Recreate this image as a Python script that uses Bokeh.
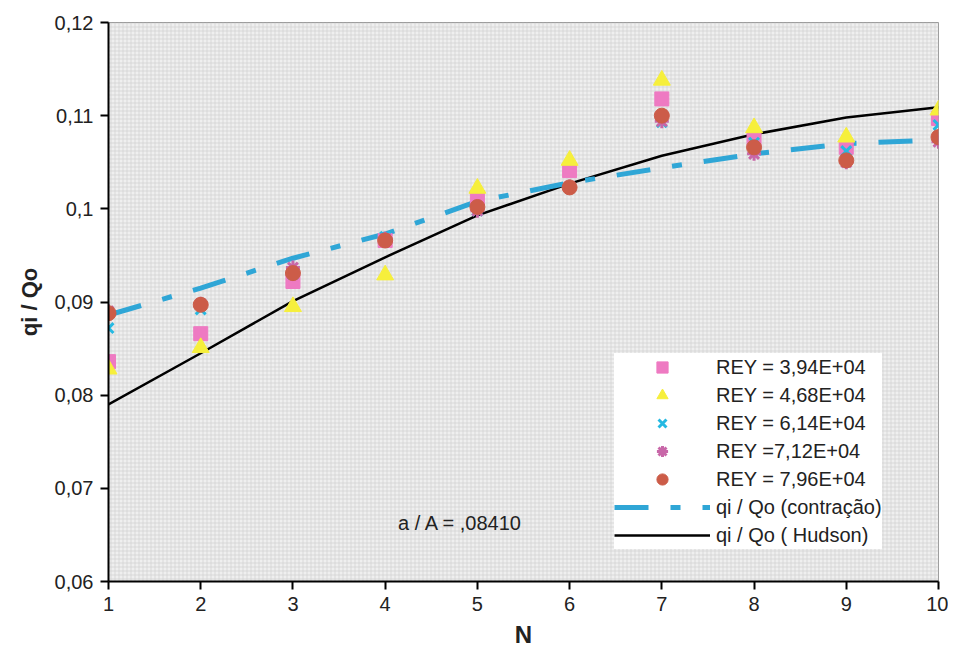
from bokeh.plotting import figure
from bokeh.models import FixedTicker, Legend, LegendItem, Label, BoxAnnotation
from bokeh.embed import file_html
from bokeh.resources import INLINE

N = [1, 2, 3, 4, 5, 6, 7, 8, 9, 10]
rey_394 = [0.0836, 0.0866, 0.0922, 0.0966, 0.1012, 0.1041, 0.1118, 0.1075, 0.1066, 0.1097]
rey_468 = [0.0828, 0.0851, 0.0895, 0.0929, 0.1022, 0.1052, 0.1138, 0.1087, 0.1077, 0.1106]
rey_614 = [0.0872, 0.0892, 0.0930, 0.0970, 0.0998, 0.1023, 0.1093, 0.1071, 0.1062, 0.1090]
rey_712 = [0.0890, 0.0898, 0.0937, 0.0968, 0.0998, 0.1024, 0.1094, 0.1059, 0.1050, 0.1072]
rey_796 = [0.0888, 0.0897, 0.0931, 0.0966, 0.1002, 0.1023, 0.1100, 0.1066, 0.1052, 0.1077]
contracao = [0.0886, 0.0915, 0.0947, 0.0973, 0.1008, 0.1028, 0.1044, 0.1059, 0.1070, 0.1074]
hudson = [0.0790, 0.0845, 0.0901, 0.0948, 0.0993, 0.1027, 0.1057, 0.1080, 0.1098, 0.1109]

x_ticks = [1, 2, 3, 4, 5, 6, 7, 8, 9, 10]
y_ticks = [0.06, 0.07, 0.08, 0.09, 0.10, 0.11, 0.12]
y_tick_labels = ["0,06", "0,07", "0,08", "0,09", "0,1", "0,11", "0,12"]

p = figure(width=948, height=651, output_backend="svg", toolbar_location=None,
           x_range=(1, 10), y_range=(0.06, 0.12),
           min_border_left=108, min_border_right=10, min_border_top=22, min_border_bottom=70)

p.background_fill_color = "#efefef"
p.border_fill_color = "white"
p.outline_line_color = "#9a9a9a"
p.outline_line_width = 1
p.grid.visible = False

p.add_layout(BoxAnnotation(fill_alpha=0, line_alpha=0, hatch_pattern="+", hatch_scale=4,
                           hatch_color="#c8c8c8", hatch_weight=1, hatch_alpha=0.55,
                           level="underlay"))

FONT = "Liberation Sans"
for ax in (p.xaxis[0], p.yaxis[0]):
    ax.axis_line_color = "black"
    ax.axis_line_width = 2
    ax.major_tick_line_color = "black"
    ax.major_tick_line_width = 2
    ax.major_tick_out = 8
    ax.major_tick_in = 0
    ax.minor_tick_line_color = None
    ax.major_label_text_font = FONT
    ax.major_label_text_font_size = "20px"
    ax.major_label_text_color = "#222222"
    ax.axis_label_text_font = FONT
    ax.axis_label_text_font_style = "bold"
    ax.axis_label_text_color = "#222222"

p.xaxis.ticker = FixedTicker(ticks=x_ticks)
p.yaxis.ticker = FixedTicker(ticks=y_ticks)
p.yaxis.major_label_overrides = {t: l for t, l in zip(y_ticks, y_tick_labels)}
p.xaxis.axis_label = "N"
p.xaxis.axis_label_text_font_size = "24px"
p.xaxis.axis_label_standoff = 7
p.yaxis.axis_label = "qi / Qo"
p.yaxis.axis_label_text_font_size = "22px"
p.yaxis.axis_label_standoff = 10
p.xaxis.major_label_standoff = 7
p.yaxis.major_label_standoff = 7

r_hud = p.line(N, hudson, line_color="black", line_width=2.5)
r_con = p.line(N, contracao, line_color="#2fa6d6", line_width=5, line_dash="34 22 10 22")

r1 = p.scatter(N, rey_394, marker="square", size=14, fill_color="#ee7ac2", line_color="#ee7ac2")
r2 = p.scatter(N, rey_468, marker="triangle", size=17, fill_color="#f6ef3c", line_color="#f6ef3c")
r3 = p.scatter(N, rey_614, marker="x", size=14, line_color="#25b9e2", line_width=3)
r4 = p.scatter(N, rey_712, marker="asterisk", size=14, line_color="#c867a8", line_width=3)
r5 = p.scatter(N, rey_796, marker="circle", size=15, fill_color="#cc5c48", line_color="#cc5c48")

legend = Legend(items=[
    LegendItem(label="REY = 3,94E+04", renderers=[r1]),
    LegendItem(label="REY = 4,68E+04", renderers=[r2]),
    LegendItem(label="REY = 6,14E+04", renderers=[r3]),
    LegendItem(label="REY =7,12E+04", renderers=[r4]),
    LegendItem(label="REY = 7,96E+04", renderers=[r5]),
    LegendItem(label="qi / Qo (contração)", renderers=[r_con]),
    LegendItem(label="qi / Qo ( Hudson)", renderers=[r_hud]),
], location=(506, 32))
legend.background_fill_color = "white"
legend.background_fill_alpha = 1.0
legend.border_line_color = None
legend.label_text_font = FONT
legend.label_text_font_size = "20px"
legend.label_text_color = "#222222"
legend.glyph_width = 96
legend.glyph_height = 28
legend.label_height = 28
legend.spacing = 0
legend.padding = 4
legend.margin = 0
legend.label_standoff = 6
p.add_layout(legend, "center")

p.add_layout(Label(x=4.14, y=0.0663, text="a / A = ,08410", text_font=FONT,
                   text_font_size="20px", text_color="#222222", text_baseline="middle"))

open("out.html", "w").write(file_html(p, INLINE))
